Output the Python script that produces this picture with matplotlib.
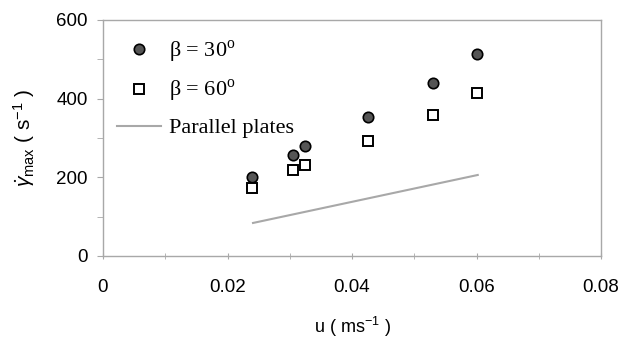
import matplotlib
matplotlib.use("Agg")
import matplotlib.pyplot as plt
from matplotlib.ticker import MultipleLocator, FuncFormatter

plt.rcParams['font.family'] = ['Liberation Sans', 'DejaVu Sans']
plt.rcParams['mathtext.fontset'] = 'custom'
plt.rcParams['mathtext.rm'] = 'Liberation Serif'
plt.rcParams['mathtext.it'] = 'Liberation Sans:italic'
plt.rcParams['mathtext.sf'] = 'Liberation Sans'

# Data
u_points = [0.024, 0.0305, 0.0325, 0.0425, 0.053, 0.060]
gamma_beta30 = [201, 257, 280, 353, 440, 513]
gamma_beta60 = [173, 218, 231, 292, 358, 414]
u_line = [0.0241, 0.0602]
gamma_plates = [84, 206]

labels = [r'β = 30$^{\mathrm{o}}$', r'β = 60$^{\mathrm{o}}$', 'Parallel plates']

fig = plt.figure(figsize=(6.22, 3.4), dpi=100)
ax = fig.add_axes([103/622, 1-256/340, (601-103)/622, (256-20)/340])

gray = '#a8a8a8'
ax.plot(u_line, gamma_plates, color=gray, lw=1.5, label=labels[2], zorder=2)
ax.plot(u_points, gamma_beta30, 'o', ms=7.5, mfc='#555555', mec='black', mew=1.2,
        label=labels[0], zorder=3)
ax.plot(u_points, gamma_beta60, 's', ms=7.5, mfc='white', mec='black', mew=1.4,
        label=labels[1], zorder=3)

ax.set_xlim(0, 0.08)
ax.set_ylim(0, 600)
ax.xaxis.set_major_locator(MultipleLocator(0.02))
ax.xaxis.set_minor_locator(MultipleLocator(0.01))
ax.yaxis.set_major_locator(MultipleLocator(200))
ax.yaxis.set_minor_locator(MultipleLocator(100))
ax.xaxis.set_major_formatter(FuncFormatter(lambda v, p: '0' if abs(v) < 1e-9 else f'{v:.2f}'))

for s in ax.spines.values():
    s.set_color(gray)
    s.set_linewidth(1.0)
ax.tick_params(axis='both', which='both', colors=gray, labelcolor='black', labelsize=13.5)
ax.tick_params(axis='x', which='both', direction='inout', length=5, pad=14)
ax.tick_params(axis='y', which='both', direction='out', length=4, pad=7)

ax.set_xlabel(r'u ( ms$^{\mathsf{-1}}$ )', fontsize=13, labelpad=14)
ax.set_ylabel(r'$\dot{\gamma}_{\mathsf{max}}$ ( s$^{\mathsf{-1}}$ )', fontsize=15, labelpad=14)

h, l = ax.get_legend_handles_labels()
order = [1, 2, 0]
leg = ax.legend([h[i] for i in order], [l[i] for i in order], loc='upper left',
                frameon=False, prop={'family': 'Liberation Serif', 'size': 16},
                handlelength=2.0, handletextpad=0.35, labelspacing=0.6,
                borderaxespad=0.0, bbox_to_anchor=(0.01, 0.96))

fig.savefig('out.png', dpi=100)
